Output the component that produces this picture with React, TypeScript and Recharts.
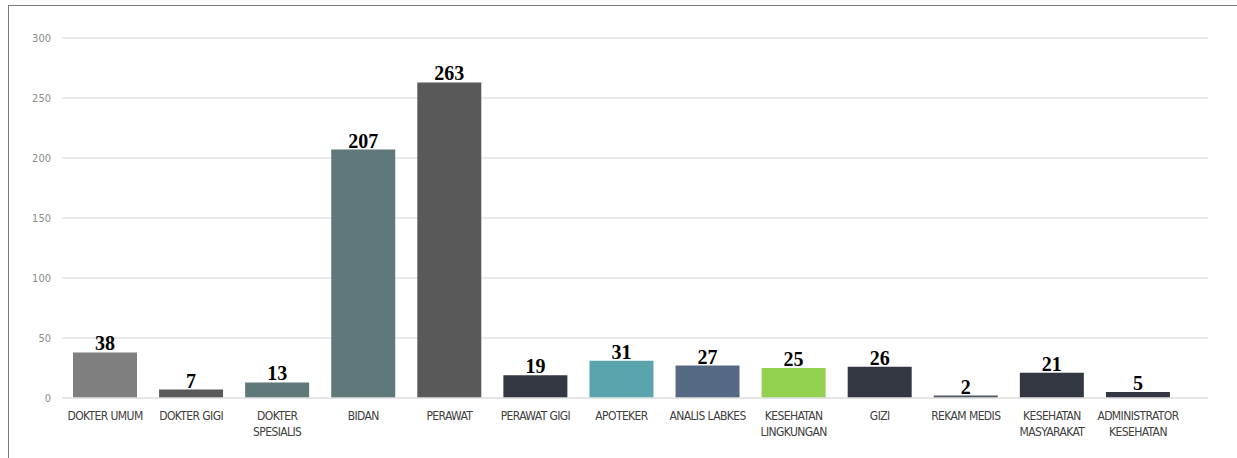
import { BarChart, Bar, XAxis, YAxis, CartesianGrid, Cell, LabelList } from "recharts";

const categories = [
  "DOKTER UMUM",
  "DOKTER GIGI",
  "DOKTER\nSPESIALIS",
  "BIDAN",
  "PERAWAT",
  "PERAWAT GIGI",
  "APOTEKER",
  "ANALIS LABKES",
  "KESEHATAN\nLINGKUNGAN",
  "GIZI",
  "REKAM MEDIS",
  "KESEHATAN\nMASYARAKAT",
  "ADMINISTRATOR\nKESEHATAN",
];

const jumlah = [38, 7, 13, 207, 263, 19, 31, 27, 25, 26, 2, 21, 5];

const barColors = [
  "#7f7f7f",
  "#595959",
  "#5f7879",
  "#5f7879",
  "#595959",
  "#333741",
  "#5aa4ae",
  "#566983",
  "#92d050",
  "#333741",
  "#4e5563",
  "#333741",
  "#333741",
];

const yTicks = [0, 50, 100, 150, 200, 250, 300];

const data = categories.map((name, i) => ({ name, value: jumlah[i] }));

const tickFont = "'DejaVu Sans Condensed', 'Liberation Sans Narrow', sans-serif";

// category labels may break over two lines
const CategoryTick = ({ x, y, payload }: any) => {
  const lines = String(payload.value).split("\n");
  return (
    <text x={x} y={y} textAnchor="middle" fill="#404040" fontSize={12} letterSpacing={-0.6} fontFamily={tickFont}>
      {lines.map((line, i) => (
        <tspan key={i} x={x} dy={i === 0 ? 14 : 16}>
          {line}
        </tspan>
      ))}
    </text>
  );
};

const App = () => {
  return (
    <div style={{ position: "absolute", left: 0, top: 0, width: 1237, height: 458, background: "#fff", overflow: "hidden" }}>
      <div
        style={{
          position: "absolute",
          left: 8,
          top: 5,
          right: 0,
          bottom: 0,
          borderTop: "1px solid #7a7a7a",
          borderLeft: "1px solid #7a7a7a",
        }}
      />
      <div style={{ position: "absolute", left: 0, top: 0 }}>
        <BarChart
          width={1237}
          height={458}
          data={data}
          margin={{ top: 38, right: 29, left: 0, bottom: 0 }}
          barCategoryGap={11}
        >
          <CartesianGrid vertical={false} stroke="#e3e3e3" strokeWidth={1.5} />
          <XAxis
            dataKey="name"
            interval={0}
            height={60}
            padding={{ left: 0, right: 27 }}
            tickLine={false}
            axisLine={{ stroke: "#e3e3e3", strokeWidth: 1.5 }}
            tick={<CategoryTick />}
          />
          <YAxis
            width={62}
            domain={[0, 300]}
            ticks={yTicks}
            tickLine={false}
            axisLine={false}
            tickMargin={5}
            tick={{ fontSize: 11, fill: "#8a8a8a", fontFamily: tickFont }}
          />
          <Bar dataKey="value" isAnimationActive={false}>
            {data.map((d, i) => (
              <Cell key={d.name} fill={barColors[i]} />
            ))}
            <LabelList
              dataKey="value"
              position="top"
              offset={2}
              fill="#000"
              fontSize={20}
              fontWeight="bold"
              fontFamily="'Liberation Serif', 'Times New Roman', serif"
            />
          </Bar>
        </BarChart>
      </div>
    </div>
  );
};

export default App;
